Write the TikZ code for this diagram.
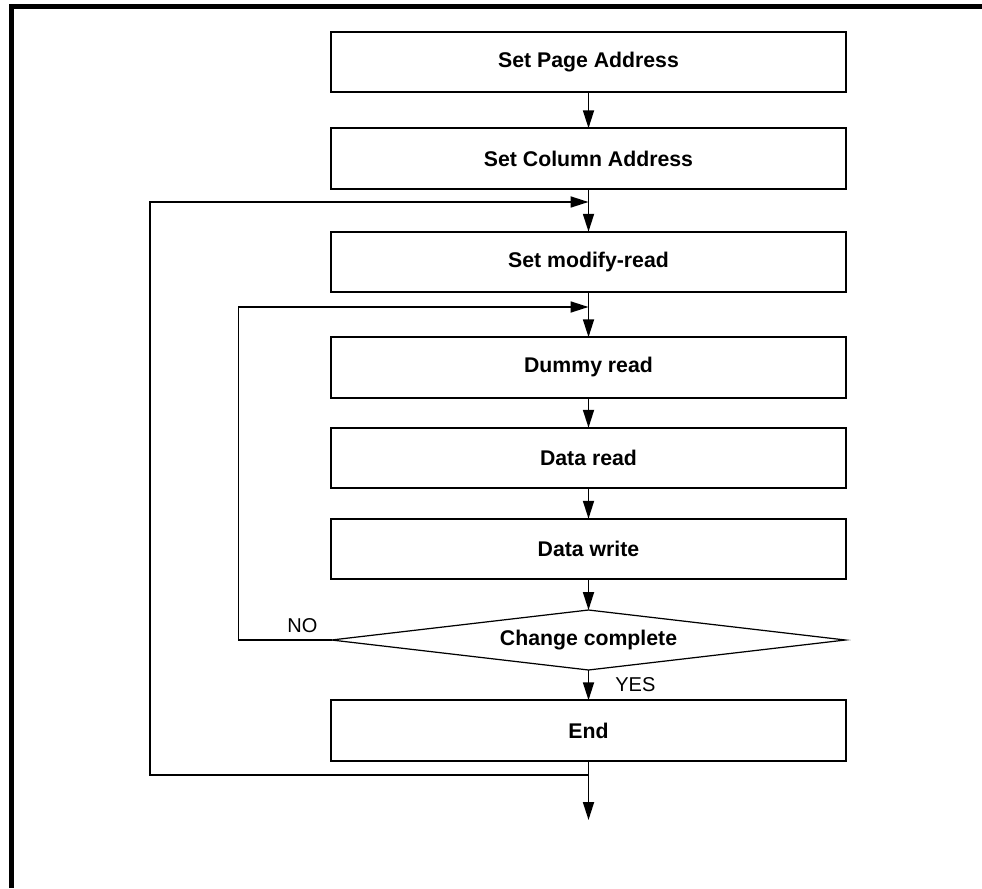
\documentclass[tikz,border=0pt]{standalone}
\usepackage{fontspec}
\setmainfont{Liberation Sans}
\usepackage{tikz}
\usetikzlibrary{arrows.meta,shapes.geometric}

\begin{document}
\begin{tikzpicture}[x=0.02cm,y=-0.02cm,
    stepbox/.style={draw,line width=1pt,minimum width=10.3cm,minimum height=1.21cm,
        inner sep=0pt,outer sep=0pt,font=\fontsize{12.1}{14}\selectfont\bfseries},
    test/.style={draw,diamond,aspect=8.6,line width=0.7pt,minimum width=10.28cm,
        minimum height=1.2cm,inner sep=0pt,outer sep=0pt,font=\fontsize{12.1}{14}\selectfont\bfseries},
    flow/.style={line width=1pt,-{Triangle[length=0.36cm,width=0.22cm]}},
    link/.style={line width=1pt},
    tag/.style={inner sep=0pt,font=\fontsize{11.4}{13}\selectfont}]
    \useasboundingbox (0,0) rectangle (982,888);

    % Frame
    \draw[line width=0.1cm] (11.5,888) -- (11.5,6.5) -- (982,6.5);

    % Steps
    \node[stepbox] (page) at (588.5,62) {Set Page Address};
    \node[stepbox] (col) at (588.5,158.5) {Set Column Address};
    \node[stepbox] (modrd) at (588.5,262) {Set modify-read};
    \node[stepbox] (dummy) at (588.5,367.5) {Dummy read};
    \node[stepbox] (rd) at (588.5,458) {Data read};
    \node[stepbox] (wr) at (588.5,549) {Data write};
    \node[test] (done) at (588.5,640) {Change complete};
    \node[stepbox] (fin) at (588.5,730.5) {End};

    % Joints
    \coordinate (outin) at (588.5,202);
    \coordinate (inin) at (588.5,307);
    \coordinate (split) at (588.5,775);
    \coordinate (exit) at (588.5,820);

    % Main flow
    \draw[flow] (page) -- (col);
    \draw[flow] (col) -- (modrd);
    \draw[flow] (modrd) -- (dummy);
    \draw[flow] (dummy) -- (rd);
    \draw[flow] (rd) -- (wr);
    \draw[flow] (wr) -- (done);
    \draw[flow] (done) -- (fin);
    \draw[flow] (fin) -- (exit);

    % Loops back
    \draw[flow] (done.west) -- ++(-93,0) |- (inin);
    \draw[flow] (split) -- ++(-438.5,0) |- (outin);

    % Labels
    \node[tag] (no) at (302.5,626) {NO};
    \node[tag,anchor=west] (yes) at (615,685) {YES};
\end{tikzpicture}
\end{document}
